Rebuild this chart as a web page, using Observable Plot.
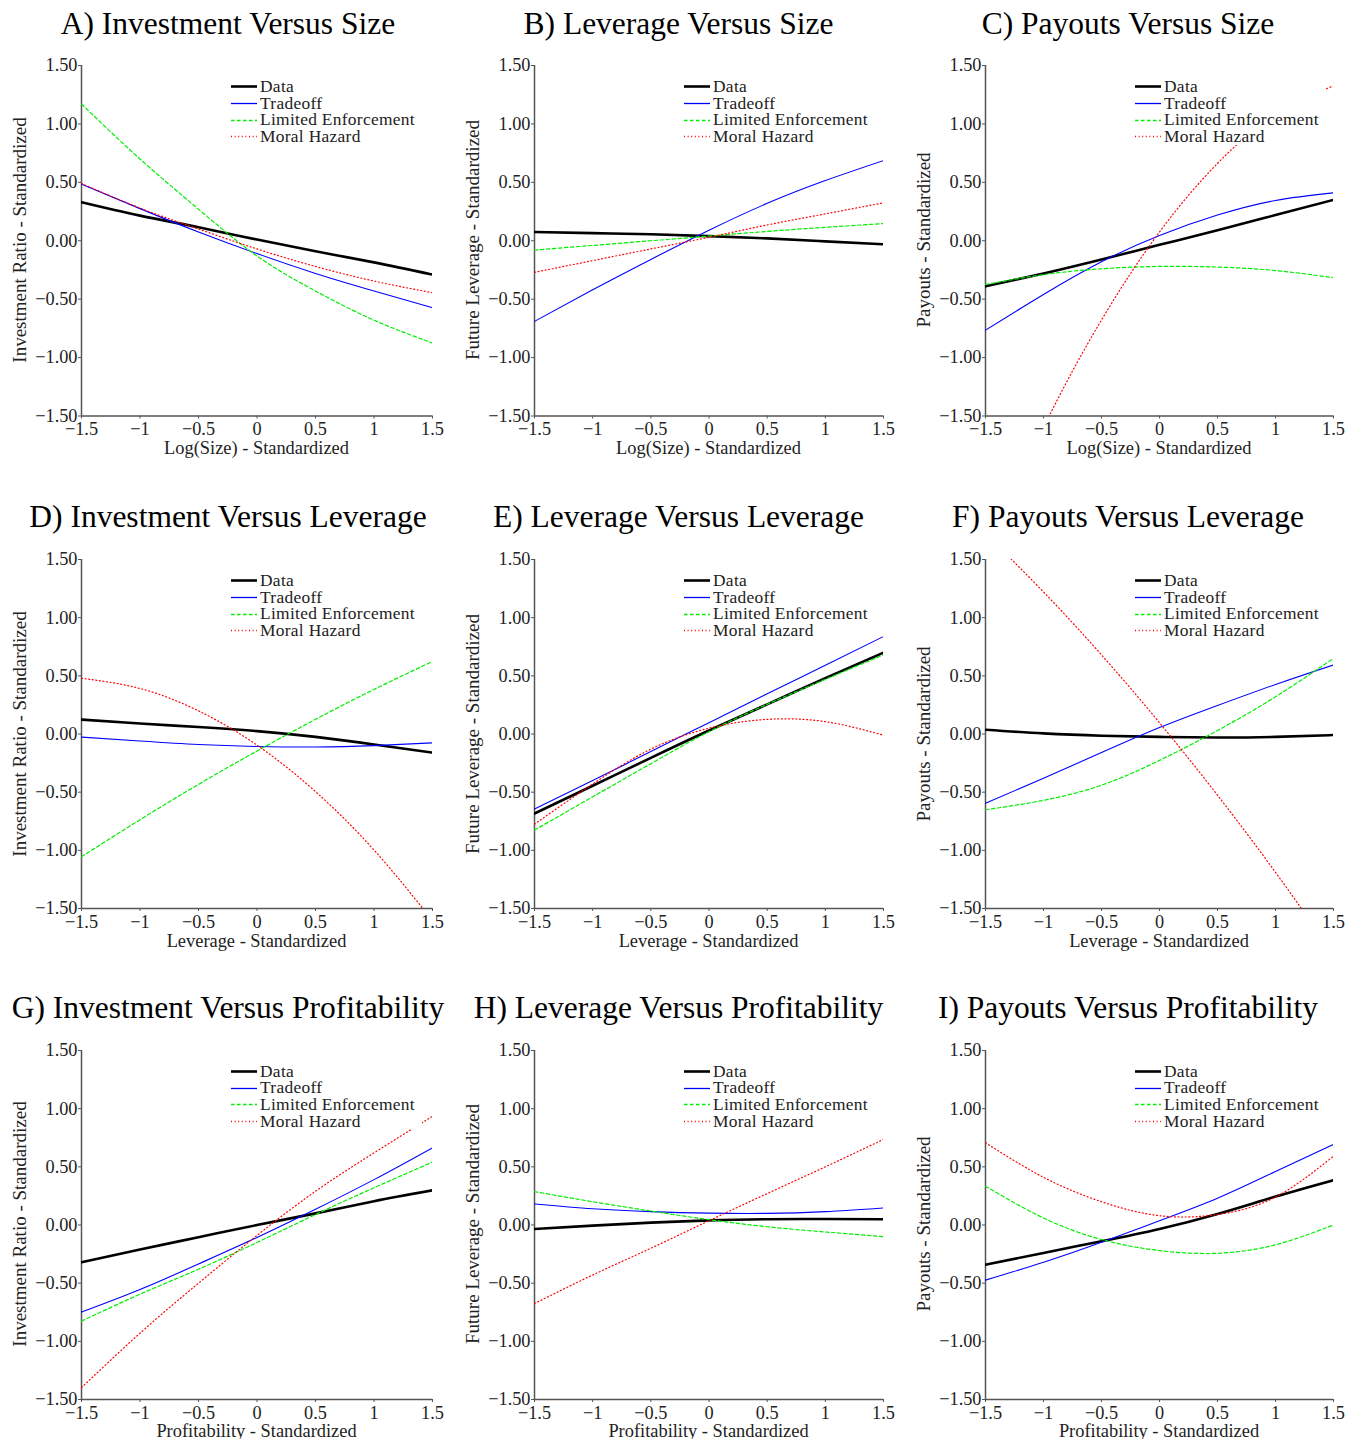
<!DOCTYPE html>
<html>
<head>
<meta charset="utf-8">
<script src="https://cdn.jsdelivr.net/npm/d3@7"></script>
<script src="https://cdn.jsdelivr.net/npm/@observablehq/plot@0.6"></script>
<style>
  body { margin: 0; background: #fff; }
  #root { position: relative; width: 1347px; height: 1439px; font-family: "Liberation Serif", "Times New Roman", serif; color: #000; overflow: hidden; }
  .panel-svg { position: absolute; }
  .title { position: absolute; font-size: 31.5px; line-height: 1; white-space: nowrap; transform: translateX(-50%); }
  .ylab { position: absolute; font-size: 19px; line-height: 1; white-space: nowrap; transform: translate(-50%, -50%) rotate(-90deg); color: #222; }
  .xlab { position: absolute; font-size: 18.4px; line-height: 1; white-space: nowrap; transform: translateX(-50%); color: #222; }
  .legend { position: absolute; background: #fff; font-size: 17.4px; letter-spacing: 0.3px; padding: 0 7px 0 4px; z-index: 2; color: #222; }
  .legend .row { display: flex; align-items: center; height: 16.7px; line-height: 16.7px; white-space: nowrap; overflow: visible; }
  .legend .row span { display: inline-block; height: 16.7px; line-height: 16.7px; overflow: visible; }
  .legend svg { margin-right: 3px; flex: none; }
</style>
</head>
<body>
<div id="root"></div>
<script>
// ---------- data ----------
const xs = [-1.5, -1, -0.5, 0, 0.5, 1, 1.5];
const xTicks = [-1.5, -1, -0.5, 0, 0.5, 1, 1.5];
const yTicks = [-1.5, -1, -0.5, 0, 0.5, 1, 1.5];
const seriesNames = ["Data", "Tradeoff", "Limited Enforcement", "Moral Hazard"];

const titles = [
  "A) Investment Versus Size", "B) Leverage Versus Size", "C) Payouts Versus Size",
  "D) Investment Versus Leverage", "E) Leverage Versus Leverage", "F) Payouts Versus Leverage",
  "G) Investment Versus Profitability", "H) Leverage Versus Profitability", "I) Payouts Versus Profitability"
];
const xLabels = ["Log(Size) - Standardized", "Leverage - Standardized", "Profitability - Standardized"];
const yLabels = ["Investment Ratio - Standardized", "Future Leverage - Standardized", "Payouts - Standardized"];

// A) Investment vs Size
const aData     = [0.33, 0.215, 0.115, 0.01, -0.09, -0.185, -0.29];
const aTradeoff = [0.485, 0.275, 0.075, -0.11, -0.28, -0.43, -0.573];
const aLimited  = [1.17, 0.70, 0.27, -0.13, -0.43, -0.68, -0.875];
const aMoral    = [0.49, 0.28, 0.10, -0.07, -0.22, -0.345, -0.445];
// B) Leverage vs Size
const bData     = [0.075, 0.065, 0.055, 0.04, 0.02, -0.005, -0.03];
const bTradeoff = [-0.69, -0.42, -0.16, 0.09, 0.32, 0.515, 0.686];
const bLimited  = [-0.08, -0.04, 0.0, 0.04, 0.08, 0.115, 0.147];
const bMoral    = [-0.27, -0.17, -0.07, 0.03, 0.135, 0.23, 0.325];
// C) Payouts vs Size
const cData     = [-0.39, -0.28, -0.16, -0.035, 0.09, 0.22, 0.35];
const cTradeoff = [-0.765, -0.46, -0.18, 0.045, 0.22, 0.345, 0.41];
const cLimited  = [-0.375, -0.29, -0.24, -0.22, -0.225, -0.255, -0.316];
const cMoral    = [-2.684, -1.598, -0.678, 0.075, 0.662, 1.082, 1.326];
// D) Investment vs Leverage
const dData     = [0.124, 0.09, 0.06, 0.025, -0.025, -0.09, -0.16];
const dTradeoff = [-0.027, -0.06, -0.09, -0.107, -0.112, -0.1, -0.076];
const dLimited  = [-1.055, -0.737, -0.433, -0.146, 0.126, 0.383, 0.624];
const dMoral    = [0.479, 0.391, 0.199, -0.096, -0.495, -0.997, -1.603];
// E) Leverage vs Leverage
const eData     = [-0.684, -0.445, -0.205, 0.03, 0.255, 0.48, 0.70];
const eTradeoff = [-0.645, -0.40, -0.15, 0.097, 0.345, 0.59, 0.838];
const eLimited  = [-0.826, -0.54, -0.255, 0.02, 0.255, 0.47, 0.68];
const eMoral    = [-0.775, -0.43, -0.13, 0.05, 0.126, 0.106, -0.01];
// F) Payouts vs Leverage
const fData     = [0.037, 0.005, -0.015, -0.025, -0.03, -0.025, -0.009];
const fTradeoff = [-0.596, -0.38, -0.16, 0.055, 0.245, 0.425, 0.593];
const fLimited  = [-0.651, -0.57, -0.44, -0.227, 0.03, 0.32, 0.65];
const fMoral    = [1.723, 1.221, 0.68, 0.097, -0.526, -1.189, -1.893];
// G) Investment vs Profitability
const gData     = [-0.32, -0.21, -0.105, 0.0, 0.1, 0.205, 0.298];
const gTradeoff = [-0.749, -0.555, -0.335, -0.107, 0.135, 0.39, 0.664];
const gLimited  = [-0.826, -0.595, -0.38, -0.15, 0.09, 0.32, 0.541];
const gMoral    = [-1.398, -0.93, -0.50, -0.09, 0.29, 0.62, 0.935];
// H) Leverage vs Profitability
const hData     = [-0.034, -0.005, 0.02, 0.04, 0.05, 0.052, 0.049];
const hTradeoff = [0.181, 0.14, 0.115, 0.102, 0.1, 0.115, 0.147];
const hLimited  = [0.287, 0.2, 0.12, 0.046, -0.015, -0.06, -0.1];
const hMoral    = [-0.675, -0.43, -0.2, 0.037, 0.27, 0.5, 0.736];
// I) Payouts vs Profitability
const iData     = [-0.342, -0.24, -0.14, -0.034, 0.095, 0.244, 0.385];
const iTradeoff = [-0.474, -0.32, -0.148, 0.037, 0.23, 0.46, 0.693];
const iLimited  = [0.333, 0.06, -0.125, -0.22, -0.243, -0.17, 0.0];
const iMoral    = [0.707, 0.41, 0.2, 0.08, 0.09, 0.24, 0.592];

const panelSeries = [
  [aData, aTradeoff, aLimited, aMoral],
  [bData, bTradeoff, bLimited, bMoral],
  [cData, cTradeoff, cLimited, cMoral],
  [dData, dTradeoff, dLimited, dMoral],
  [eData, eTradeoff, eLimited, eMoral],
  [fData, fTradeoff, fLimited, fMoral],
  [gData, gTradeoff, gLimited, gMoral],
  [hData, hTradeoff, hLimited, hMoral],
  [iData, iTradeoff, iLimited, iMoral]
];

// ---------- styling / layout ----------
const styles = [
  {stroke: "#000000", strokeWidth: 2.6, dash: null},
  {stroke: "#0000ff", strokeWidth: 1.1, dash: null},
  {stroke: "#00ee00", strokeWidth: 1.2, dash: "3.5,2.5"},
  {stroke: "#ff0000", strokeWidth: 1.2, dash: "1,2.6"}
];
const colLeft = [81, 534, 985];
const colWidth = [351, 349, 348];
const colTitleCenter = [228, 678.5, 1128];
const rowTop = [65, 559, 1049.5];
const rowHeight = [350.5, 349, 349];
const rowTitleBase = [34, 527, 1018.5];
const mL = 80, mR = 16, mT = 10, mB = 50;
const tickFont = "18.3px";

const root = document.getElementById("root");
const fmtX = d3.format("");
const fmtY = d3.format(".2f");

function addDiv(cls, text, css) {
  const el = document.createElement("div");
  el.className = cls;
  el.textContent = text;
  Object.assign(el.style, css);
  root.appendChild(el);
  return el;
}

for (let p = 0; p < 9; p++) {
  const r = Math.floor(p / 3), c = p % 3;
  const left = colLeft[c], top = rowTop[r], w = colWidth[c], h = rowHeight[r];
  const marks = [
    Plot.axisX({ticks: xTicks, tickFormat: fmtX, tickSize: 3, tickPadding: 3, label: null, stroke: "#555", fill: "#222"}),
    Plot.axisY({ticks: yTicks, tickFormat: fmtY, tickSize: 3, tickPadding: 1, label: null, stroke: "#555", fill: "#222"}),
    Plot.ruleX([-1.5], {stroke: "#555", strokeWidth: 1.5}),
    Plot.ruleY([-1.5], {stroke: "#555", strokeWidth: 1.5})
  ];
  panelSeries[p].forEach((vals, k) => {
    const rows = xs.map((x, i) => ({x, y: vals[i]}));
    const st = styles[k];
    marks.push(Plot.line(rows, {
      x: "x", y: "y", curve: "natural", clip: true,
      stroke: st.stroke, strokeWidth: st.strokeWidth,
      strokeDasharray: st.dash ?? undefined
    }));
  });
  const svg = Plot.plot({
    width: mL + w + mR,
    height: mT + h + mB,
    marginLeft: mL, marginRight: mR, marginTop: mT, marginBottom: mB,
    style: {fontFamily: '"Liberation Serif", serif', fontSize: tickFont, background: "transparent", overflow: "visible", color: "#222"},
    x: {domain: [-1.5, 1.5]},
    y: {domain: [-1.5, 1.5]},
    marks
  });
  svg.classList.add("panel-svg");
  svg.style.left = (left - mL) + "px";
  svg.style.top = (top - mT) + "px";
  root.appendChild(svg);

  // title
  const tfs = 31.5;
  addDiv("title", titles[p], {left: colTitleCenter[c] + "px", top: (rowTitleBase[r] - 0.84 * tfs) + "px"});
  // y label
  addDiv("ylab", yLabels[c], {left: (left - 62) + "px", top: (top + h / 2) + "px"});
  // x label
  addDiv("xlab", xLabels[r], {left: (left + w / 2) + "px", top: (top + h + 39 - 0.84 * 18.4) + "px"});

  // legend
  const lg = document.createElement("div");
  lg.className = "legend";
  lg.style.left = (left + 146) + "px";
  lg.style.top = (top + 13) + "px";
  seriesNames.forEach((name, k) => {
    const row = document.createElement("div");
    row.className = "row";
    const st = styles[k];
    const s = d3.create("svg").attr("width", 26).attr("height", 16);
    s.append("line").attr("x1", 0).attr("x2", 26).attr("y1", 8.5).attr("y2", 8.5)
      .attr("stroke", st.stroke).attr("stroke-width", Math.max(st.strokeWidth, 1.3))
      .attr("stroke-dasharray", st.dash);
    row.appendChild(s.node());
    const t = document.createElement("span");
    t.textContent = name;
    row.appendChild(t);
    lg.appendChild(row);
  });
  root.appendChild(lg);
}
</script>
</body>
</html>
